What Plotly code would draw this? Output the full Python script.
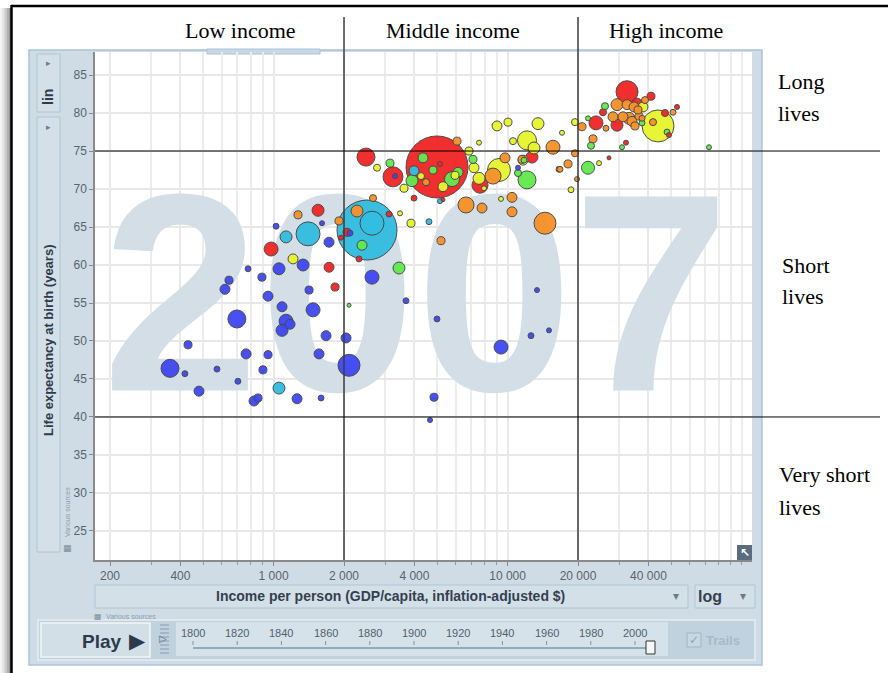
import numpy as np
import plotly.graph_objects as go

# ---------------- data ----------------
year = "2007"

# Sub-Saharan Africa (blue)
ssa_income = [1025, 778, 645, 620, 892, 1055, 1337, 1726, 1611, 1418, 947, 1087, 1475, 697, 1131,
              1176, 1087, 2634, 3681, 1676, 2040, 1564, 2101, 431, 763, 947, 361, 418, 573, 901,
              704, 480, 1260, 1596, 825, 858, 4995, 13360, 9375, 12593, 15030, 4850, 4662, 2122,
              3304, 11082]
ssa_life = [65.1, 59.5, 58.0, 56.8, 58.4, 59.5, 60.0, 63.0, 65.5, 56.7, 55.9, 54.5, 54.1, 52.9, 52.6,
            52.2, 51.4, 58.4, 55.3, 50.7, 50.4, 48.3, 46.8, 49.5, 48.3, 48.2, 46.4, 45.7, 46.3, 46.2,
            44.7, 43.4, 42.4, 42.5, 42.1, 42.5, 52.9, 56.7, 49.2, 50.7, 51.4, 42.6, 39.6, 64.2,
            71.7, 72.8]
ssa_pop = [12, 12, 22, 34, 22, 49, 49, 34, 8.6, 22, 34, 34, 67, 111, 67,
           34, 49, 67, 12, 34, 34, 34, 166, 22, 34, 22, 111, 12, 12, 22,
           12, 34, 34, 12, 34, 22, 12, 8.6, 67, 12, 8.6, 22, 8.6, 12,
           8.6, 8.6]

# South Asia (cyan)
sas_income = [2508, 2634, 1404, 1131, 1055, 3983, 4616, 5144]
sas_life = [64.6, 65.5, 64.1, 63.7, 43.8, 72.4, 65.7, 68.4]
sas_pop = [1234, 197, 197, 49, 49, 34, 12, 8.6]

# East Asia & Pacific (red)
eap_income = [4995, 3239, 2483, 7625, 12718, 32392, 23874, 29356, 35741, 41016, 47071, 52978,
              48960, 25577, 27130, 32071, 976, 1549, 1726, 1831, 3115, 2318, 2060, 1942, 3983,
              5144, 5298]
eap_life = [72.9, 71.6, 74.2, 70.5, 74.2, 82.8, 78.7, 78.4, 81.3, 82.2, 80.0, 80.8,
            77.1, 80.1, 74.1, 76.1, 62.1, 67.2, 59.7, 57.1, 66.7, 60.8, 64.3, 63.6, 68.8,
            73.3, 68.6]
eap_pop = [1318, 137, 111, 88, 49, 166, 67, 49, 34, 22, 17, 8.6,
           8.6, 17, 5.5, 8.6, 67, 49, 34, 22, 12, 12, 22, 8.6, 12,
           8.6, 5.5]

# Middle East & North Africa (green)
mena_income = [12109, 5789, 3905, 4352, 3145, 7117, 4802, 6141, 11082, 11757, 2388, 3436, 2101,
               22067, 72572, 48015, 37541, 26083, 30835, 22728, 22067]
mena_life = [71.2, 71.3, 71.1, 74.1, 73.4, 73.9, 72.5, 72.2, 72.1, 73.8, 62.6, 59.6, 54.7,
             72.8, 75.5, 77.5, 78.7, 80.9, 75.5, 75.7, 79.3]
mena_pop = [111, 77, 49, 34, 22, 22, 22, 34, 17, 12, 34, 49, 5.5,
            58, 8.6, 12, 12, 17, 8.6, 17, 8.6]

# Americas (yellow)
amr_income = [43940, 9192, 12109, 12971, 13492, 10043, 9014, 10550, 7549, 6843, 7187, 7549, 5962,
              5298, 4267, 3610, 11644, 19415, 17086, 24590, 18668, 37911, 1211, 3470, 3867, 2768,
              9375, 7931]
amr_life = [78.3, 72.5, 76.4, 75.4, 78.6, 78.8, 78.3, 76.3, 76.1, 75.0, 72.8, 71.4, 71.8,
            70.3, 71.7, 70.1, 73.8, 78.8, 77.4, 73.4, 69.9, 80.8, 60.8, 66.8, 65.5, 72.8,
            68.7, 70.1]
amr_pop = [351, 181, 124, 49, 49, 22, 34, 17, 8.6, 22, 34, 49, 22,
           34, 17, 22, 34, 17, 8.6, 8.6, 12, 34, 34, 8.6, 22, 17,
           8.6, 8.6]

# Europe & Central Asia (orange)
eca_income = [14453, 8668, 6644, 15639, 7777, 10447, 10447, 2273, 1272, 2661, 1904, 5195, 4482,
              6081, 9751, 11527, 16588, 29356, 28222, 32392, 34697, 31140, 33030, 34023, 36446,
              35040, 41832, 50931, 38663, 20802, 26342, 23180, 19415, 18126, 16753, 19805, 36091,
              37541]
eca_life = [65.5, 71.7, 67.9, 75.5, 67.5, 68.9, 67.0, 67.1, 66.6, 68.8, 65.8, 63.2, 70.9,
            76.3, 74.1, 73.9, 72.6, 81.1, 79.5, 81.1, 80.8, 79.5, 79.3, 78.9, 79.6,
            78.3, 78.8, 80.1, 81.7, 78.2, 78.0, 76.6, 74.7, 73.3, 72.6, 71.3, 80.4,
            79.3]
eca_pop = [166, 88, 88, 67, 34, 34, 34, 49, 22, 17, 22, 22, 17,
           22, 34, 22, 12, 49, 34, 34, 34, 34, 49, 34, 22,
           22, 17, 12, 17, 22, 12, 22, 17, 22, 12, 8.6, 22,
           12]

regions = [
    (ssa_income, ssa_life, ssa_pop, "#4049f3"),
    (sas_income, sas_life, sas_pop, "#33bde0"),
    (eap_income, eap_life, eap_pop, "#f22727"),
    (mena_income, mena_life, mena_pop, "#62e94f"),
    (amr_income, amr_life, amr_pop, "#e7f52e"),
    (eca_income, eca_life, eca_pop, "#f6922a"),
]

x_tick_vals = [200, 400, 1000, 2000, 4000, 10000, 20000, 40000]
x_tick_text = ["200", "400", "1 000", "2 000", "4 000", "10 000", "20 000", "40 000"]
x_minor_vals = [300, 500, 600, 700, 800, 900, 3000, 5000, 6000, 7000, 8000, 9000,
                30000, 50000, 60000, 70000, 80000, 90000, 100000]
y_tick_vals = [25, 30, 35, 40, 45, 50, 55, 60, 65, 70, 75, 80, 85]
slider_years = [1800, 1820, 1840, 1860, 1880, 1900, 1920, 1940, 1960, 1980, 2000]
income_bounds = [2000, 20000]
life_bounds = [75, 40]
income_labels = ["Low income", "Middle income", "High income"]
life_labels = [("Long", "lives"), ("Short", "lives"), ("Very short", "lives")]

# ---------------- layout geometry ----------------
W, H = 888, 673
L, R, T, B = 95, 752, 52, 560
XR = [2.2369, 5.0446]
YR = [21.18, 88.03]


def fx(p):
    return (p - L) / (R - L)


def fy(p):
    return (B - p) / (B - T)


shapes = []
annots = []


def rect(x0, y0, x1, y1, fill, line=None, lw=1.0, layer="below"):
    shapes.append(dict(type="rect", xref="paper", yref="paper",
                       x0=fx(x0), x1=fx(x1), y0=fy(y1), y1=fy(y0),
                       fillcolor=fill,
                       line=dict(color=line if line else "rgba(0,0,0,0)", width=lw if line else 0),
                       layer=layer))


def pline(x0, y0, x1, y1, color, w=1.0, layer="below"):
    shapes.append(dict(type="line", xref="paper", yref="paper",
                       x0=fx(x0), x1=fx(x1), y0=fy(y0), y1=fy(y1),
                       line=dict(color=color, width=w), layer=layer))


def txt(x, y, s, size, color, bold=False, family="Liberation Sans", angle=0,
        xanchor="center", yanchor="middle"):
    annots.append(dict(xref="paper", yref="paper", x=fx(x), y=fy(y), text=s,
                       showarrow=False, textangle=angle, xanchor=xanchor, yanchor=yanchor,
                       font=dict(size=size, color=color, family=family,
                                 weight="bold" if bold else "normal")))


# shadow + frame (only top and left edges are visible in the screenshot)
for i, c in enumerate(["#f4f4f4", "#e2e2e2", "#cbcbcb", "#b0b0b0", "#959595"]):
    rect(i * 2.2, 8, i * 2.2 + 2.3, H, c)
pline(11, 6, 888, 6, "#000000", 2.5)
pline(11.5, 5, 11.5, H, "#000000", 2.5)

# gapminder panel
rect(29, 50, 762, 665, "#cfdce5", "#a9c3d9", 1.5)
rect(L, T, R, B, "#ffffff")
rect(207, 49, 320, 54, "#c9d8e3", "#a9c3d9", 1)

# left column boxes
rect(37, 54, 60, 112, "#d4e0e8", "#b0c4d3", 1)
rect(37, 117, 60, 552, "#d4e0e8", "#b0c4d3", 1)
txt(48, 63, "▸", 9, "#6a7d8c", family="DejaVu Sans")
txt(48, 127, "▸", 9, "#6a7d8c", family="DejaVu Sans")
txt(48, 97, "lin", 14, "#2f3a4a", bold=True, angle=-90)
txt(48, 341, "Life expectancy at birth (years)", 13, "#2f3a4a", bold=True, angle=-90)
txt(67, 512, "Various sources", 7, "#8a9dab", angle=-90)
txt(67, 548, "▦", 9, "#7a8b99", family="DejaVu Sans")

# x axis title box + log box
rect(95, 585, 688, 608, "#d4e0e8", "#b0c4d3", 1)
rect(695, 585, 755, 608, "#d4e0e8", "#b0c4d3", 1)
txt(390, 596, "Income per person (GDP/capita, inflation-adjusted $)", 14, "#343f50", bold=True)
txt(676, 596, "▾", 12, "#6b7b89", family="DejaVu Sans")
txt(710, 596, "log", 16, "#343f50", bold=True)
txt(743, 596, "▾", 12, "#6b7b89", family="DejaVu Sans")
txt(98, 616, "▦", 8, "#7a8b99", family="DejaVu Sans")
txt(104, 616, "Various sources", 7, "#8a9dab", xanchor="left")

# play bar
rect(38, 620, 755, 660, "#c0d2dd", "#e6edf2", 1.5)
rect(41, 623, 150, 657, "#d2dfe7", "#f2f6f8", 1.5)
rect(176, 622, 668, 656, "#d6e2e9")
txt(102, 641, "Play", 19, "#2d3a4c", bold=True)
txt(137, 641, "▶", 21, "#2d3a4c", family="DejaVu Sans")
for yy in range(625, 655, 4):
    pline(160, yy, 169, yy, "#8a9bab", 1)
txt(163, 638, "▷", 10, "#5d6f7e", family="DejaVu Sans")
x_year0, x_year_step = 193, 44.2
pline(x_year0, 648, 651, 648, "#93aabb", 2)
for i, yv in enumerate(slider_years):
    xp = x_year0 + i * x_year_step
    txt(xp, 633, str(yv), 11, "#52606d")
    pline(xp, 641, xp, 645, "#7f93a3", 1)
rect(646, 641, 655, 654, "#f4f6f8", "#333333", 1)
rect(687, 633, 701, 647, "#c8d7e1", "#9fb4c4", 1)
txt(694, 640, "✓", 12, "#8fa5b5", family="DejaVu Sans")
txt(723, 640, "Trails", 13, "#a6bac9", bold=True)

# corner icon
rect(737, 545, 752, 560, "#5a6c7d", layer="above")
txt(744.5, 552.5, "↖", 12, "#ffffff", bold=True, family="DejaVu Sans")

# income / life region dividers
for v in income_bounds:
    shapes.append(dict(type="line", xref="x", yref="paper", x0=v, x1=v, y0=0, y1=fy(17),
                       line=dict(color="#3c3c3c", width=1.5), layer="above"))
for v in life_bounds:
    shapes.append(dict(type="line", xref="paper", yref="y", x0=0, x1=fx(880), y0=v, y1=v,
                       line=dict(color="#000000", width=1), layer="above"))

for lab, xp in zip(income_labels, [240, 453, 666]):
    txt(xp, 30, lab, 22, "#000000", family="Liberation Serif")
for (a, b), (xp, ya, yb) in zip(life_labels, [(776, 81, 113), (780, 265, 296), (777, 474, 507)]):
    txt(xp, ya, a, 22, "#000000", family="Liberation Serif", xanchor="left")
    txt(xp, yb, b, 22, "#000000", family="Liberation Serif", xanchor="left")

# ---------------- traces ----------------
fig = go.Figure()

year_x = 10 ** (XR[0] + fx(416) * (XR[1] - XR[0]))
year_y = YR[0] + fy(320) * (YR[1] - YR[0])
fig.add_trace(go.Scatter(x=[year_x], y=[year_y], mode="text", text=[year],
                         textposition="middle center",
                         textfont=dict(size=282, color="#d3dee6", family="Liberation Sans",
                                       weight="bold"),
                         hoverinfo="skip", showlegend=False))

all_x, all_y, all_p, all_c = [], [], [], []
for inc, lif, pop, col in regions:
    all_x += inc
    all_y += lif
    all_p += pop
    all_c += [col] * len(inc)
order = np.argsort(-np.array(all_p), kind="stable")
xs = np.array(all_x)[order]
ys = np.array(all_y)[order]
ps = np.array(all_p)[order]
cs = np.array(all_c)[order]
diam = 2 * 0.854 * np.sqrt(ps)

fig.add_trace(go.Scatter(x=xs, y=ys, mode="markers",
                         marker=dict(size=diam, sizemode="diameter", color=list(cs), opacity=0.96,
                                     line=dict(color="#474747", width=1)),
                         hoverinfo="skip", showlegend=False))

tickfont = dict(size=12, color="#5a636d", family="Liberation Sans")
fig.update_layout(
    width=W, height=H, autosize=False,
    margin=dict(l=L, r=W - R, t=T, b=H - B, pad=0),
    paper_bgcolor="#ffffff", plot_bgcolor="#ffffff",
    showlegend=False,
    shapes=shapes, annotations=annots,
    xaxis=dict(type="log", range=XR, tickvals=x_tick_vals, ticktext=x_tick_text,
               showgrid=True, gridcolor="#e8e8e8", gridwidth=1.5,
               ticks="outside", ticklen=4, tickcolor="#8a8a8a",
               showline=True, linecolor="#8a8a8a", linewidth=1.5, zeroline=False,
               tickfont=tickfont, fixedrange=True,
               minor=dict(tickvals=x_minor_vals, showgrid=True, gridcolor="#ececec",
                          gridwidth=1.5, ticks="outside", ticklen=3, tickcolor="#9a9a9a")),
    yaxis=dict(range=YR, tickvals=y_tick_vals,
               showgrid=True, gridcolor="#e8e8e8", gridwidth=1.5,
               ticks="outside", ticklen=4, tickcolor="#8a8a8a",
               showline=True, linecolor="#8a8a8a", linewidth=1.5, zeroline=False,
               tickfont=tickfont, fixedrange=True),
)

fig.write_html("out.html", config={"displayModeBar": False},
               post_script="document.body.style.margin='0';document.body.style.overflow='hidden';")
